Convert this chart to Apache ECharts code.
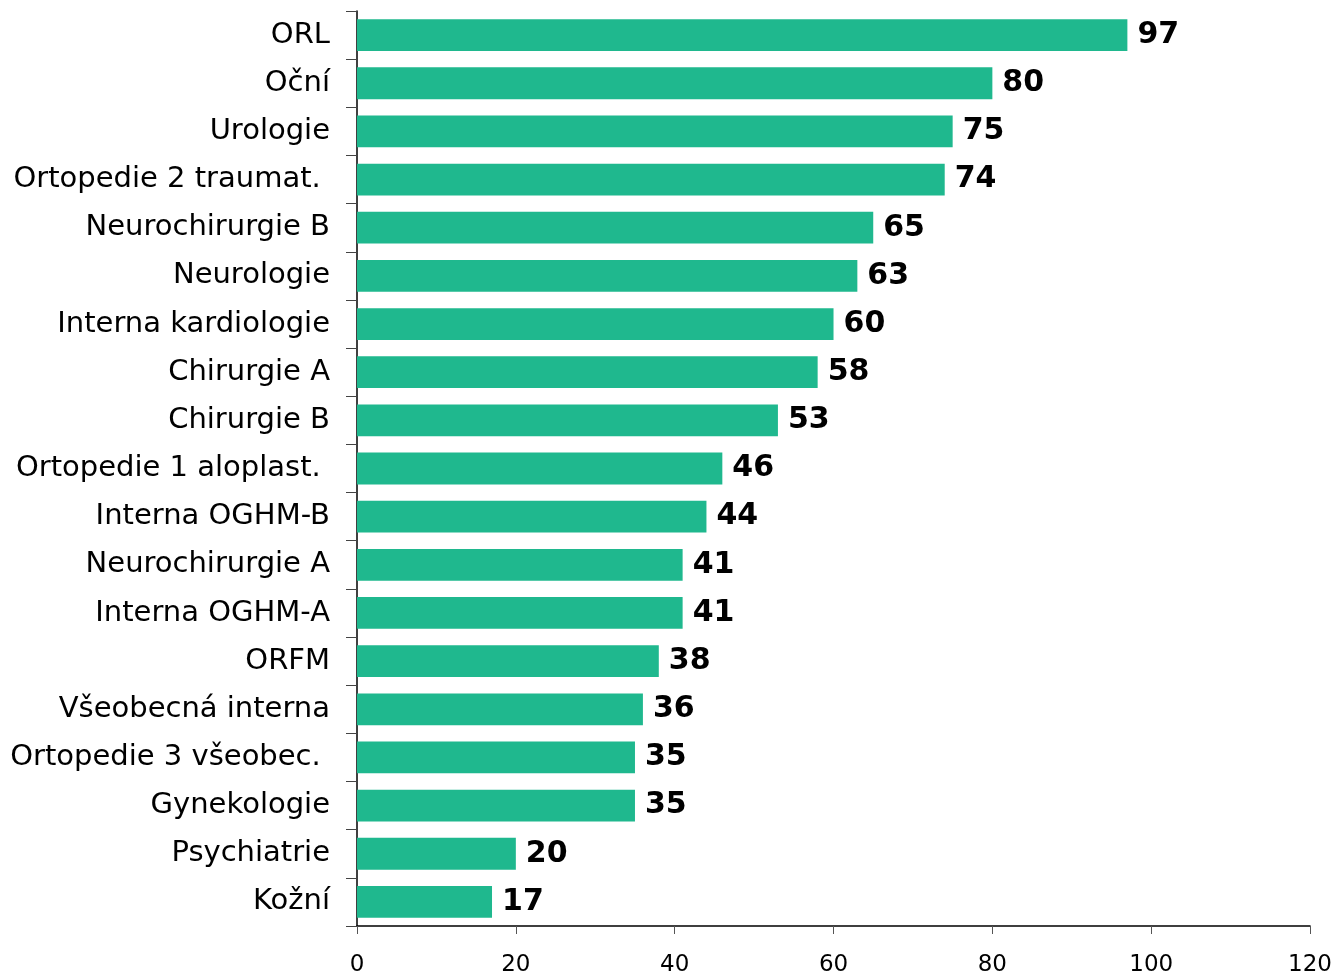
<!DOCTYPE html>
<html>
<head>
<meta charset="utf-8">
<script src="https://cdn.jsdelivr.net/npm/echarts@6/dist/echarts.min.js"></script>
<style>
  html, body { margin: 0; padding: 0; background: #fff; }
  #chart { width: 1335px; height: 977px; }
</style>
</head>
<body>
<div id="chart"></div>
<script>
// oddělení (shora dolů)
const categories = [
  'ORL', 'Oční', 'Urologie', 'Ortopedie 2 traumat. ', 'Neurochirurgie B',
  'Neurologie', 'Interna kardiologie', 'Chirurgie A', 'Chirurgie B',
  'Ortopedie 1 aloplast. ', 'Interna OGHM-B', 'Neurochirurgie A',
  'Interna OGHM-A', 'ORFM', 'Všeobecná interna', 'Ortopedie 3 všeobec. ',
  'Gynekologie', 'Psychiatrie', 'Kožní'
]
const values = [97, 80, 75, 74, 65, 63, 60, 58, 53, 46, 44, 41, 41, 38, 36, 35, 35, 20, 17]

const font = '"DejaVu Sans", Verdana, sans-serif'

const chart = echarts.init(document.getElementById('chart'))
chart.setOption({
  animation: false,
  grid: { left: 357, right: 24, top: 11, bottom: 50 },
  xAxis: {
    type: 'value',
    min: 0,
    max: 120,
    interval: 20,
    splitLine: { show: false },
    axisLine: { show: true, lineStyle: { color: '#000', width: 1.5 } },
    axisTick: { show: true, length: 8, lineStyle: { color: '#555' } },
    axisLabel: { color: '#000', fontSize: 23, fontFamily: font, margin: 28 }
  },
  yAxis: {
    type: 'category',
    inverse: true,
    data: categories,
    axisLine: { show: true, lineStyle: { color: '#000', width: 1.5 } },
    axisTick: { show: true, length: 11, lineStyle: { color: '#444' } },
    axisLabel: { color: '#000', fontSize: 29, fontFamily: font, margin: 27, padding: [6, 0, 0, 0] }
  },
  series: [{
    type: 'bar',
    data: values,
    barCategoryGap: '34%',
    itemStyle: { color: '#1fb88e' },
    label: {
      show: true,
      position: 'right',
      distance: 10,
      color: '#000',
      fontSize: 30,
      fontWeight: 'bold',
      fontFamily: font,
      padding: [5, 0, 0, 0]
    }
  }]
})
</script>
</body>
</html>
